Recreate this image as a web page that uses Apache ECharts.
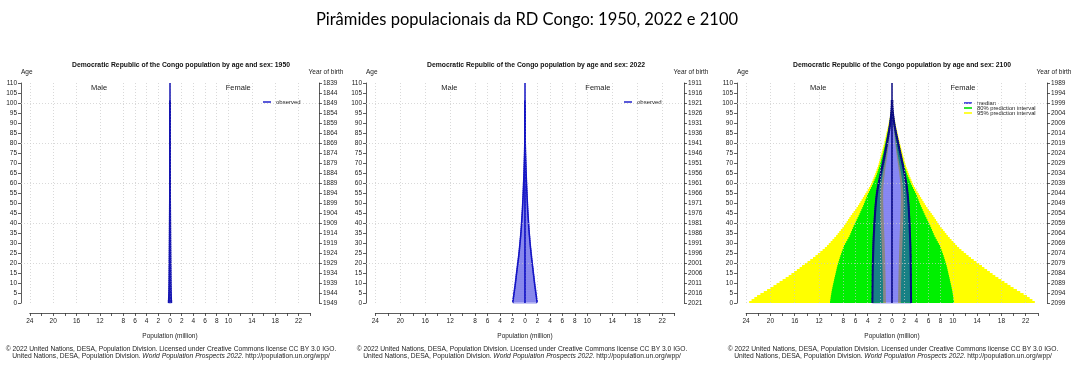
<!DOCTYPE html>
<html><head><meta charset="utf-8">
<script src="https://cdn.jsdelivr.net/npm/echarts@6/dist/echarts.min.js"></script>
<style>html,body{margin:0;padding:0;background:#fff}#c{width:1076px;height:368px}</style>
</head><body><div id="c"></div>
<script>
// ---------- DATA (million persons, single-year ages 0..100) ----------
const ages = Array.from({length: 101}, (_, i) => i);

const pop1950Male = [
0.252,0.224,0.211,0.2,0.19,0.176,0.167,0.161,0.153,0.147,
0.142,0.138,0.134,0.13,0.126,0.123,0.12,0.117,0.114,0.111,
0.109,0.106,0.103,0.1,0.098,0.096,0.093,0.091,0.089,0.087,
0.085,0.082,0.08,0.078,0.076,0.074,0.072,0.07,0.068,0.066,
0.064,0.062,0.06,0.058,0.056,0.054,0.052,0.05,0.049,0.047,
0.045,0.044,0.042,0.04,0.039,0.037,0.035,0.034,0.032,0.031,
0.029,0.027,0.026,0.024,0.023,0.021,0.02,0.018,0.017,0.016,
0.014,0.013,0.012,0.011,0.01,0.009,0.008,0.007,0.006,0.005,
0.0045,0.004,0.0033,0.0027,0.0022,0.0018,0.0014,0.0011,0.0009,0.0007,
0.0005,0.0004,0.0003,0.0002,0.00015,0.0001,0.0001,0.00005,0.00004,0.00003,
0.00002];
const pop1950Female = [
0.248,0.221,0.209,0.198,0.189,0.175,0.166,0.16,0.153,0.147,
0.142,0.138,0.135,0.131,0.128,0.125,0.122,0.119,0.116,0.113,
0.111,0.108,0.105,0.102,0.1,0.098,0.095,0.093,0.09,0.088,
0.086,0.083,0.081,0.079,0.077,0.075,0.073,0.071,0.069,0.067,
0.065,0.063,0.061,0.059,0.057,0.055,0.053,0.051,0.05,0.048,
0.046,0.045,0.043,0.041,0.04,0.038,0.036,0.035,0.033,0.032,
0.03,0.028,0.027,0.025,0.024,0.022,0.021,0.019,0.018,0.017,
0.015,0.014,0.013,0.012,0.011,0.01,0.009,0.008,0.007,0.006,
0.0052,0.0046,0.0039,0.0032,0.0026,0.0021,0.0017,0.0013,0.001,0.0008,
0.0006,0.0005,0.0004,0.0003,0.0002,0.00015,0.0001,0.00008,0.00006,0.00004,
0.00003];

const pop2022Male = [
1.95,1.9,1.86,1.81,1.77,1.72,1.68,1.63,1.59,1.55,
1.51,1.47,1.43,1.4,1.36,1.32,1.28,1.24,1.2,1.16,
1.12,1.08,1.04,1.0,0.97,0.93,0.9,0.87,0.84,0.81,
0.78,0.75,0.72,0.69,0.67,0.64,0.62,0.59,0.57,0.55,
0.53,0.51,0.49,0.47,0.45,0.43,0.41,0.395,0.38,0.365,
0.35,0.335,0.32,0.305,0.29,0.276,0.262,0.249,0.236,0.224,
0.212,0.2,0.188,0.177,0.166,0.155,0.144,0.134,0.124,0.114,
0.104,0.095,0.086,0.077,0.069,0.061,0.054,0.047,0.041,0.035,
0.03,0.025,0.021,0.017,0.014,0.011,0.009,0.007,0.0055,0.0042,
0.0032,0.0024,0.0018,0.0013,0.0009,0.0006,0.0004,0.0003,0.0002,0.0001,
0.0001];
const pop2022Female = [
1.93,1.88,1.84,1.8,1.75,1.71,1.67,1.62,1.58,1.54,
1.5,1.46,1.43,1.39,1.35,1.31,1.28,1.24,1.2,1.16,
1.13,1.09,1.05,1.02,0.98,0.95,0.92,0.88,0.85,0.82,
0.79,0.76,0.74,0.71,0.68,0.66,0.63,0.61,0.59,0.57,
0.55,0.53,0.51,0.49,0.47,0.45,0.43,0.415,0.4,0.385,
0.37,0.355,0.34,0.325,0.31,0.296,0.282,0.268,0.255,0.242,
0.23,0.218,0.206,0.194,0.183,0.172,0.161,0.151,0.14,0.13,
0.12,0.11,0.1,0.091,0.082,0.073,0.065,0.057,0.05,0.043,
0.037,0.031,0.026,0.022,0.018,0.014,0.011,0.009,0.007,0.0053,
0.004,0.003,0.0023,0.0017,0.0012,0.0008,0.0006,0.0004,0.0003,0.0002,
0.0002];

const median2100Male = [
3.22,3.22,3.21,3.21,3.21,3.2,3.2,3.2,3.19,3.19,
3.19,3.18,3.18,3.18,3.17,3.17,3.16,3.16,3.15,3.15,
3.14,3.13,3.12,3.11,3.1,3.09,3.08,3.07,3.06,3.05,
3.04,3.02,3.01,2.99,2.98,2.96,2.94,2.93,2.91,2.89,
2.87,2.85,2.83,2.81,2.79,2.77,2.74,2.72,2.69,2.66,
2.63,2.6,2.56,2.52,2.48,2.43,2.38,2.32,2.26,2.2,
2.13,2.06,1.99,1.92,1.85,1.78,1.71,1.64,1.57,1.5,
1.43,1.36,1.29,1.23,1.16,1.1,1.04,0.98,0.91,0.85,
0.79,0.73,0.67,0.61,0.56,0.5,0.45,0.4,0.35,0.3,
0.26,0.22,0.18,0.15,0.12,0.09,0.07,0.05,0.035,0.025,
0.04];
const median2100Female = [
3.14,3.14,3.13,3.13,3.13,3.12,3.12,3.12,3.11,3.11,
3.11,3.1,3.1,3.1,3.09,3.09,3.09,3.08,3.08,3.07,
3.07,3.06,3.06,3.05,3.04,3.04,3.03,3.02,3.01,3.0,
2.99,2.98,2.97,2.96,2.95,2.93,2.92,2.91,2.89,2.88,
2.86,2.85,2.83,2.81,2.8,2.78,2.76,2.74,2.72,2.7,
2.67,2.65,2.62,2.59,2.56,2.52,2.48,2.44,2.4,2.35,
2.3,2.24,2.18,2.12,2.06,1.99,1.93,1.86,1.79,1.72,
1.65,1.58,1.51,1.44,1.37,1.3,1.23,1.16,1.09,1.02,
0.95,0.88,0.81,0.74,0.67,0.61,0.54,0.48,0.42,0.37,
0.32,0.27,0.23,0.19,0.15,0.12,0.09,0.07,0.05,0.04,
0.06];
const upper80_2100 = [
10.2,10.15,10.1,10.06,10.0,9.95,9.89,9.82,9.75,9.68,
9.6,9.53,9.46,9.38,9.3,9.23,9.15,9.08,9.0,8.9,
8.8,8.7,8.6,8.5,8.38,8.26,8.14,8.02,7.9,7.72,
7.54,7.36,7.18,7.0,6.86,6.72,6.58,6.44,6.3,6.14,
5.98,5.82,5.66,5.5,5.35,5.2,5.05,4.9,4.75,4.62,
4.49,4.36,4.23,4.1,3.94,3.78,3.62,3.46,3.3,3.16,
3.02,2.88,2.74,2.6,2.49,2.38,2.27,2.16,2.05,1.96,
1.87,1.78,1.69,1.6,1.52,1.44,1.36,1.28,1.2,1.13,
1.06,0.99,0.92,0.85,0.78,0.71,0.64,0.57,0.5,0.45,
0.4,0.34,0.29,0.24,0.2,0.16,0.13,0.1,0.07,0.05,
0.08];
const lower80_2100 = [
1.45,1.45,1.46,1.46,1.47,1.47,1.48,1.48,1.49,1.49,
1.5,1.51,1.52,1.53,1.54,1.55,1.56,1.57,1.58,1.59,
1.6,1.61,1.62,1.63,1.65,1.66,1.67,1.68,1.7,1.71,
1.72,1.73,1.75,1.76,1.77,1.79,1.8,1.81,1.83,1.84,
1.85,1.86,1.87,1.87,1.88,1.88,1.89,1.89,1.9,1.9,
1.9,1.9,1.89,1.88,1.87,1.85,1.83,1.8,1.77,1.74,
1.7,1.66,1.61,1.56,1.51,1.45,1.39,1.33,1.27,1.21,
1.15,1.1,1.04,0.99,0.93,0.88,0.83,0.77,0.72,0.67,
0.62,0.58,0.53,0.49,0.44,0.4,0.36,0.32,0.28,0.24,
0.2,0.17,0.14,0.11,0.09,0.07,0.05,0.04,0.03,0.02,
0.03];
const upper95_2100 = [
23.5,23.1,22.65,22.2,21.65,21.1,20.55,20.0,19.5,19.0,
18.5,18.0,17.5,17.0,16.55,16.1,15.65,15.2,14.8,14.35,
13.9,13.45,13.0,12.6,12.2,11.8,11.42,11.05,10.7,10.4,
10.1,9.8,9.5,9.2,8.94,8.68,8.42,8.16,7.9,7.68,
7.46,7.24,7.02,6.8,6.56,6.32,6.08,5.84,5.6,5.4,
5.2,5.0,4.8,4.6,4.4,4.2,4.0,3.8,3.6,3.46,
3.32,3.18,3.04,2.9,2.78,2.66,2.54,2.42,2.3,2.21,
2.12,2.03,1.94,1.85,1.76,1.68,1.59,1.51,1.42,1.34,
1.26,1.18,1.1,1.02,0.95,0.88,0.8,0.72,0.65,0.58,
0.52,0.45,0.38,0.32,0.27,0.22,0.17,0.13,0.1,0.07,
0.11];
const lower95_2100 = [
1.0,1.0,1.01,1.01,1.02,1.02,1.03,1.03,1.04,1.04,
1.05,1.06,1.06,1.07,1.08,1.08,1.09,1.1,1.1,1.11,
1.12,1.13,1.14,1.15,1.16,1.17,1.18,1.19,1.2,1.21,
1.22,1.23,1.24,1.26,1.27,1.28,1.3,1.31,1.32,1.34,
1.35,1.36,1.37,1.38,1.39,1.4,1.41,1.42,1.43,1.44,
1.45,1.45,1.45,1.45,1.45,1.45,1.44,1.42,1.4,1.38,
1.35,1.32,1.28,1.24,1.2,1.17,1.12,1.07,1.03,0.98,
0.93,0.89,0.84,0.79,0.75,0.7,0.66,0.62,0.58,0.54,
0.5,0.46,0.43,0.39,0.35,0.32,0.29,0.25,0.22,0.19,
0.16,0.13,0.11,0.09,0.07,0.05,0.04,0.03,0.02,0.015,
0.02];

// tick labels shown on the population axis (signed positions)
const xLabelsLeft = [-24, -20, -16, -12, -8, -6, -4, -2, 0];
const xLabelsRight = [2, 4, 6, 8, 10, 14, 18, 22];
const hGridAges = [20, 40, 60, 80, 100];

// ---------- LAYOUT / STYLE ----------
const FONT = '"Liberation Sans", Arial, sans-serif';
const TXT = '#222';
const TOP = 83, H = 220, XR = 25.5;
const panels = [
  {year: 1950, left: 21, width: 298, titleX: 181, copyX: 171, legendX: 263, male: pop1950Male, female: pop1950Female, line: '#1414B0'},
  {year: 2022, left: 366, width: 318, titleX: 536, copyX: 522, legendX: 624, male: pop2022Male, female: pop2022Female, line: '#1414C4'},
  {year: 2100, left: 737, width: 310, titleX: 902, copyX: 893, legendX: 964, male: median2100Male, female: median2100Female, line: '#0A0A80'}
];
const labeled = new Set([...xLabelsLeft, ...xLabelsRight]);
const vGrid = [...xLabelsLeft, ...xLabelsRight];

function barsRender(fill, stroke, lw) {
  return function (params, api) {
    const a = api.value(0), m = api.value(1), f = api.value(2);
    const pb = api.coord([0, a]), pt = api.coord([0, a + 1]);
    const xm = api.coord([-m, a])[0], xf = api.coord([f, a])[0];
    const y = pt[1], h = pb[1] - pt[1], x0 = pb[0];
    return {type: 'group', children: [
      {type: 'rect', shape: {x: xm, y: y, width: x0 - xm, height: h}, style: {fill: fill, stroke: stroke, lineWidth: lw}},
      {type: 'rect', shape: {x: x0, y: y, width: xf - x0, height: h}, style: {fill: fill, stroke: stroke, lineWidth: lw}}
    ]};
  };
}
function bandRender(color) {
  return function (params, api) {
    const a = api.value(0), lo = api.value(1), hi = api.value(2);
    const yb = api.coord([0, a])[1], yt = api.coord([0, a + 1])[1];
    const x1 = api.coord([-hi, a])[0], x2 = api.coord([-lo, a])[0];
    const x3 = api.coord([lo, a])[0], x4 = api.coord([hi, a])[0];
    return {type: 'group', children: [
      {type: 'rect', shape: {x: x1, y: yt, width: x2 - x1, height: yb - yt}, style: {fill: color}},
      {type: 'rect', shape: {x: x3, y: yt, width: x4 - x3, height: yb - yt}, style: {fill: color}}
    ]};
  };
}
function outlineRender(maleArr, femaleArr, color, lw) {
  return function (params, api) {
    const a = api.value(0);
    const mN = a + 1 < maleArr.length ? maleArr[a + 1] : 0;
    const fN = a + 1 < femaleArr.length ? femaleArr[a + 1] : 0;
    const m = api.value(1), f = api.value(2);
    const L = [api.coord([-m, a]), api.coord([-m, a + 1]), api.coord([-mN, a + 1])];
    const R = [api.coord([f, a]), api.coord([f, a + 1]), api.coord([fN, a + 1])];
    return {type: 'group', children: [
      {type: 'polyline', shape: {points: L}, style: {stroke: color, lineWidth: lw, fill: null}},
      {type: 'polyline', shape: {points: R}, style: {stroke: color, lineWidth: lw, fill: null}}
    ]};
  };
}

const grid = [], xAxis = [], yAxis = [], series = [], legend = [], title = [], graphic = [];
panels.forEach((p, i) => {
  const c = p.left + p.width / 2, s = p.width / (2 * XR);
  grid.push({left: p.left, top: TOP, width: p.width, height: H});
  grid.push({left: c - 24 * s, top: 312, width: 48 * s, height: 1});
  xAxis.push({gridIndex: 2 * i, type: 'value', min: -XR, max: XR, show: false});
  xAxis.push({gridIndex: 2 * i + 1, type: 'value', min: -24, max: 24, interval: 2, position: 'bottom',
    axisLine: {show: true, onZero: false, lineStyle: {color: '#333', width: 0.8}},
    axisTick: {show: true, length: 3, lineStyle: {color: '#333', width: 0.8}},
    axisLabel: {fontSize: 6.5, color: TXT, margin: 5, fontFamily: FONT, showMinLabel: true, showMaxLabel: true,
      formatter: v => labeled.has(v) ? String(Math.abs(v)) : ''},
    splitLine: {show: false},
    name: 'Population (million)', nameLocation: 'middle', nameGap: 20,
    nameTextStyle: {fontSize: 6.5, color: TXT, fontFamily: FONT}});
  const yCommon = {gridIndex: 2 * i, type: 'value', min: 0, max: 110, interval: 5,
    axisLine: {show: true, onZero: false, lineStyle: {color: '#333', width: 0.8}},
    axisTick: {show: true, length: 3, lineStyle: {color: '#333', width: 0.8}},
    splitLine: {show: false}, nameLocation: 'end', nameGap: 7};
  yAxis.push(Object.assign({}, yCommon, {position: 'left', name: 'Age',
    nameTextStyle: {fontSize: 6.5, color: TXT, fontFamily: FONT, align: 'left'},
    axisLabel: {fontSize: 6.5, color: TXT, margin: 4, fontFamily: FONT}}));
  yAxis.push(Object.assign({}, yCommon, {position: 'right', name: 'Year of birth',
    nameTextStyle: {fontSize: 6.5, color: TXT, fontFamily: FONT, align: 'center', padding: [0, 0, 0, 14]},
    axisLabel: {fontSize: 6.5, color: TXT, margin: 4, fontFamily: FONT, formatter: v => String(p.year - 1 - v)}}));

  const xi = 2 * i, yi = 2 * i;
  series.push({type: 'line', xAxisIndex: xi, yAxisIndex: yi, data: [], silent: true, z: 0,
    markLine: {symbol: ['none', 'none'], silent: true, animation: false, label: {show: false},
      lineStyle: {type: [1, 2], color: '#c8c8c8', width: 0.7},
      data: [...vGrid.map(v => ({xAxis: v})), ...hGridAges.map(v => ({yAxis: v}))]}});

  if (p.year !== 2100) {
    const d = ages.map(a => [a, p.male[a], p.female[a]]);
    series.push({type: 'custom', name: 'observed', xAxisIndex: xi, yAxisIndex: yi, silent: true, z: 3,
      data: d, encode: {x: [1, 2], y: 0}, renderItem: barsRender('rgba(90,90,255,0.22)', '#1a1ad0', 0.5)});
    series.push({type: 'custom', name: 'observed', xAxisIndex: xi, yAxisIndex: yi, silent: true, z: 4,
      data: d, encode: {x: [1, 2], y: 0}, renderItem: outlineRender(p.male, p.female, p.line, 1.5)});
    legend.push({show: true, left: p.legendX, top: 99, orient: 'vertical', padding: 0, itemWidth: 8, itemHeight: 1.6,
      selectedMode: false, textStyle: {fontSize: 6, color: TXT, fontFamily: FONT},
      data: [{name: 'observed', icon: 'rect', itemStyle: {color: '#3030d0'}}]});
  } else {
    series.push({type: 'custom', name: '95% prediction interval', xAxisIndex: xi, yAxisIndex: yi, silent: true, z: 1,
      data: ages.map(a => [a, lower95_2100[a], upper95_2100[a]]), encode: {x: [1, 2], y: 0}, renderItem: bandRender('#ffff00')});
    series.push({type: 'custom', name: '80% prediction interval', xAxisIndex: xi, yAxisIndex: yi, silent: true, z: 2,
      data: ages.map(a => [a, lower80_2100[a], upper80_2100[a]]), encode: {x: [1, 2], y: 0}, renderItem: bandRender('#00f000')});
    const d = ages.map(a => [a, p.male[a], p.female[a]]);
    series.push({type: 'custom', name: 'median', xAxisIndex: xi, yAxisIndex: yi, silent: true, z: 3,
      data: d, encode: {x: [1, 2], y: 0}, renderItem: barsRender('rgba(70,70,255,0.28)', '#2020e0', 0.45)});
    series.push({type: 'custom', name: 'median', xAxisIndex: xi, yAxisIndex: yi, silent: true, z: 4,
      data: d, encode: {x: [1, 2], y: 0}, renderItem: outlineRender(p.male, p.female, p.line, 2)});
    legend.push({show: true, left: p.legendX, top: 100, orient: 'vertical', padding: 0, itemWidth: 8, itemHeight: 1.6, itemGap: -1,
      selectedMode: false, textStyle: {fontSize: 5.8, lineHeight: 4, color: TXT, fontFamily: FONT},
      data: [{name: 'median', icon: 'rect', itemStyle: {color: '#2a2ad8'}},
             {name: '80% prediction interval', icon: 'rect', itemStyle: {color: '#00e000'}},
             {name: '95% prediction interval', icon: 'rect', itemStyle: {color: '#ffff00'}}]});
  }
  series.push({type: 'line', xAxisIndex: xi, yAxisIndex: yi, data: [], silent: true, z: 5,
    markLine: {symbol: ['none', 'none'], silent: true, animation: false, label: {show: false},
      lineStyle: {type: 'solid', color: p.line, width: 1.5}, data: [{xAxis: 0}]}});

  title.push({text: 'Democratic Republic of the Congo population by age and sex: ' + p.year,
    left: p.titleX, top: 62, textAlign: 'center', padding: 0,
    textStyle: {fontSize: 6.8, fontWeight: 'bold', color: '#111', fontFamily: FONT}});
  title.push({text: '© 2022 United Nations, DESA, Population Division. Licensed under Creative Commons license CC BY 3.0 IGO.\nUnited Nations, DESA, Population Division. {i|World Population Prospects 2022}. http://population.un.org/wpp/',
    left: p.copyX, top: 345, textAlign: 'center', padding: 0,
    textStyle: {fontSize: 6.7, fontWeight: 'normal', lineHeight: 7.5, color: TXT, fontFamily: FONT,
      rich: {i: {fontStyle: 'italic', fontSize: 6.7, lineHeight: 7.5, color: TXT, fontFamily: FONT}}}});
  graphic.push({type: 'text', left: c - 12 * s - 9, top: 84, silent: true,
    style: {text: 'Male', fontSize: 7.5, fill: TXT, fontFamily: FONT}});
  graphic.push({type: 'text', left: c + 11.6 * s - 12, top: 84, silent: true,
    style: {text: 'Female', fontSize: 7.5, fill: TXT, fontFamily: FONT}});
});
panels.forEach((p, i) => yAxis.push({gridIndex: 2 * i + 1, type: 'value', show: false}));

title.unshift({text: 'Pirâmides populacionais da RD Congo: 1950, 2022 e 2100', left: 527, top: 11, textAlign: 'center', padding: 0,
  textStyle: {fontSize: 16.5, fontWeight: 'normal', color: '#000', fontFamily: 'Lato, "Open Sans", sans-serif'}});

const chart = echarts.init(document.getElementById('c'), null, {renderer: 'canvas'});
chart.setOption({animation: false, backgroundColor: '#fff', title, grid, xAxis, yAxis, series, legend, graphic, tooltip: {show: false}});
</script>
</body></html>
